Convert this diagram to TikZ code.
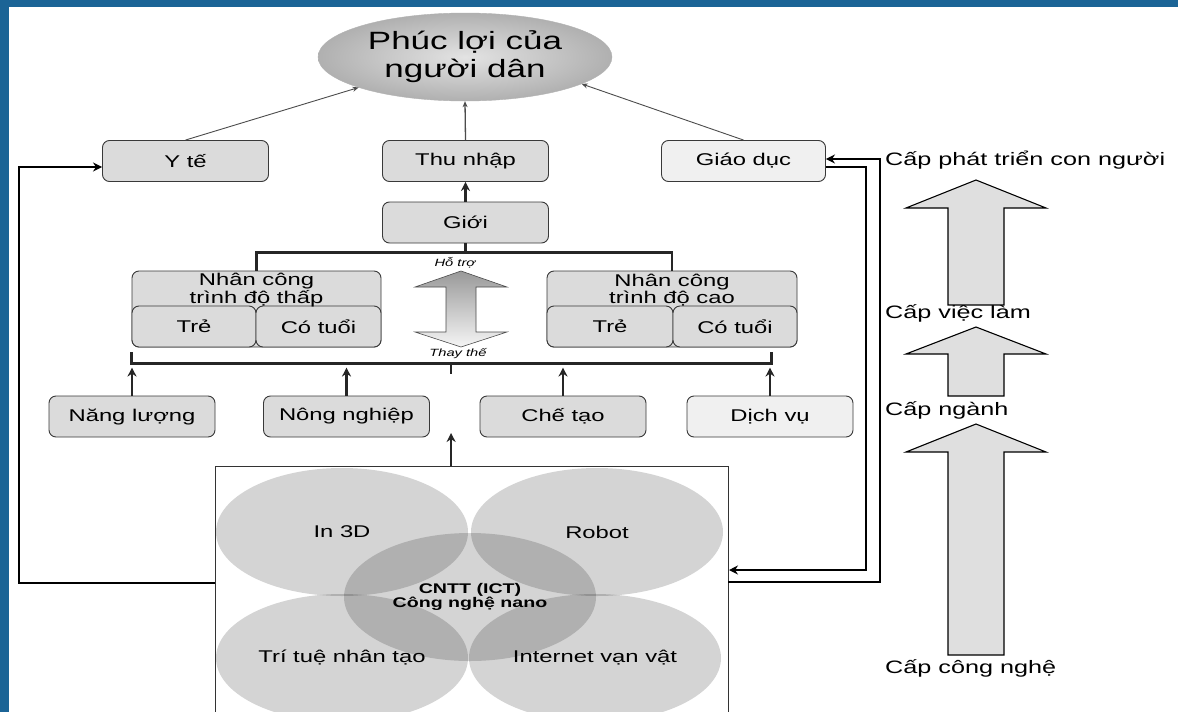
\documentclass[tikz,border=0pt]{standalone}
\usepackage{fontspec}
\setmainfont{Liberation Sans}[FakeStretch=1.4]
\usetikzlibrary{shapes.geometric,arrows.meta}
\definecolor{framebg}{HTML}{1B6496}

\begin{document}
\begin{tikzpicture}[x=1pt,y=-1pt,>={Stealth[length=9pt,width=9pt]},
  box/.style={draw=gray!45!black,line width=0.9pt,rounded corners=7pt,fill=gray!28,
    minimum width=166pt,minimum height=41pt,inner sep=0pt,font=\fontsize{17}{20}\selectfont},
  lightbox/.style={box,fill=gray!12},
  wire/.style={line width=2.2pt,black!85},
  thinlink/.style={line width=0.9pt,gray!60!black,-{Stealth[length=6pt,width=5pt]}},
  venn/.style={ellipse,fill=black,fill opacity=0.17,text opacity=1,minimum width=252pt,
    minimum height=128pt,inner sep=0pt,font=\fontsize{17}{20}\selectfont},
  note/.style={font=\itshape\fontsize{10.5}{12}\selectfont,inner sep=0pt},
  level/.style={anchor=west,inner sep=0pt,font=\fontsize{18}{20}\selectfont},
  levelarrow/.style={draw=black,line width=1.1pt,fill=gray!25}]
  \clip (0,0) rectangle (1178,712);
  \fill[white] (0,0) rectangle (1178,712);
  \fill[framebg] (0,0) rectangle (1178,7);
  \fill[framebg] (0,0) rectangle (9,712);

  \node[ellipse,draw=gray!60,shading=radial,inner color=gray!22,outer color=gray!62,
    minimum width=294pt,minimum height=88pt,inner sep=0pt,align=center,
    font=\fontsize{25}{28}\selectfont] (wellbeing) at (465,57) {Phúc lợi của\\người dân};

  \node[box] (health) at (185.5,161) {Y tế};
  \node[box] (income) at (465.5,161) {Thu nhập};
  \node[lightbox,minimum width=164pt] (edu) at (743.5,161) {Giáo dục};
  \node[box] (gender) at (465.5,222.5) {Giới};

  \draw[thinlink] (health.north) -- (wellbeing.196);
  \draw[thinlink,line width=1.3pt] (income.north) -- (wellbeing.south);
  \draw[thinlink] (edu.north) -- (wellbeing.-13);
  \draw[wire,->] (gender) -- (income);

  \node[box,minimum width=249pt,minimum height=76pt] (lowskill) at (256.5,309) {};
  \node[box,minimum width=124pt] (lowyoung) at (194,326.5) {Trẻ};
  \node[box,minimum width=125pt] (lowold) at (318.5,326.5) {Có tuổi};
  \node[align=center,inner sep=0pt,font=\fontsize{17}{15}\selectfont] (lowtitle) at (256.5,290) {Nhân công\\trình độ thấp};

  \node[box,minimum width=250pt,minimum height=76pt] (highskill) at (672,309) {};
  \node[box,minimum width=126pt] (highyoung) at (610,326.5) {Trẻ};
  \node[box,minimum width=124pt] (highold) at (735,326.5) {Có tuổi};
  \node[align=center,inner sep=0pt,font=\fontsize{17}{15}\selectfont] (hightitle) at (672,290) {Nhân công\\trình độ cao};

  \draw[wire] (gender.south) -- ++(0,10);
  \draw[wire] (lowskill.north) -- ++(0,-18) -| (highskill.north);
  \draw[wire] ([yshift=-5pt]lowskill.south west) -- ++(0,11) -| ([xshift=-26pt,yshift=-5pt]highskill.south east);
  \draw[wire] (451,363) -- (451,374);

  \shade[top color=gray!80,bottom color=gray!8,draw=gray!60!black,line width=0.6pt]
    (461,271) -- (507,287) -- (476,287) -- (476,332) -- (507,332) -- (461,347)
    -- (415,332) -- (446,332) -- (446,287) -- (415,287) -- cycle;
  \node[note] (support) at (455,263) {Hỗ trợ};
  \node[note] (replace) at (458,354) {Thay thế};

  \node[box] (energy) at (132,416.5) {Năng lượng};
  \node[box] (agri) at (346.5,416.5) {Nông nghiệp};
  \node[box] (manu) at (563,416.5) {Chế tạo};
  \node[lightbox] (service) at (770,416.5) {Dịch vụ};

  \draw[wire,->] (energy.north) -- ++(0,-28);
  \draw[wire,->] (agri.north) -- ++(0,-28);
  \draw[wire,->] (manu.north) -- ++(0,-28);
  \draw[wire,->] (service.north) -- ++(0,-28);

  \node[draw=gray!40!black,line width=1.2pt,anchor=north west,minimum width=513pt,
    minimum height=290pt,inner sep=0pt] (tech) at (215,466) {};
  \node[venn] (print) at (342,532) {In 3D};
  \node[venn] (robot) at (597,532) {Robot};
  \node[venn] (ai) at (342,658) {Trí tuệ nhân tạo};
  \node[venn] (iot) at (595,658) {Internet vạn vật};
  \node[venn,align=center,font=\bfseries\fontsize{14}{14}\selectfont] (ict) at (470,597) {CNTT (ICT)\\Công nghệ nano};

  \draw[wire,->] ([xshift=-21pt]tech.north) -- ++(0,-33);

  \coordinate (techL) at (215,583);
  \coordinate (techR1) at (729,570);
  \coordinate (techR2) at (728,582);
  \draw[line width=1.8pt,->] (techL) -- ++(-196,0) |- ([yshift=-6pt]health.west);
  \draw[line width=1.8pt,->] ([yshift=-6pt]edu.east) -- ++(40,0) |- (techR1);
  \draw[line width=1.8pt,->] (techR2) -- ++(152,0) |- ([yshift=2pt]edu.east);

  \node[level] (lvhuman) at (885,160) {Cấp phát triển con người};
  \node[level] (lvjob) at (885,313) {Cấp việc làm};
  \node[level] (lvsector) at (885,410) {Cấp ngành};
  \node[level] (lvtech) at (885,668) {Cấp công nghệ};

  \draw[levelarrow] (948,305) -- (948,208) -- (906,208) -- (976,180) -- (1046,208) -- (1004,208) -- (1004,305) -- cycle;
  \draw[levelarrow] (948,396) -- (948,354) -- (906,354) -- (976,327) -- (1046,354) -- (1004,354) -- (1004,396) -- cycle;
  \draw[levelarrow] (948,655) -- (948,452) -- (906,452) -- (976,424) -- (1046,452) -- (1004,452) -- (1004,655) -- cycle;
\end{tikzpicture}
\end{document}
